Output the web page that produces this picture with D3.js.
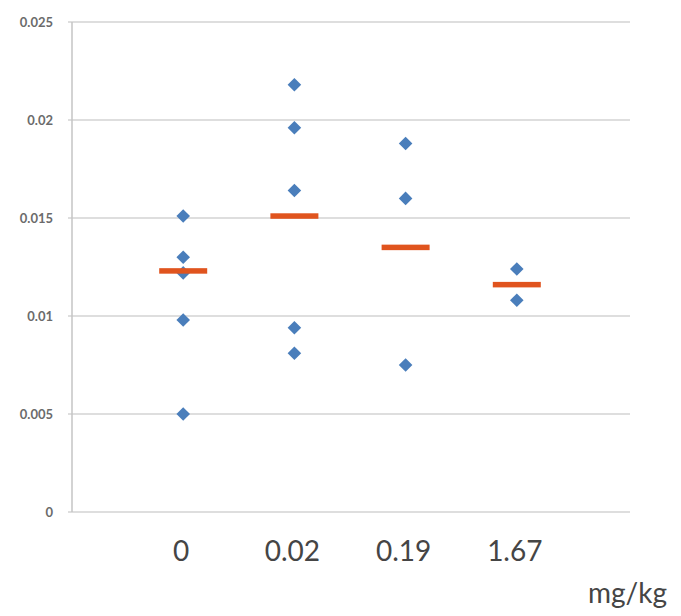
<!DOCTYPE html>
<html>
<head>
<meta charset="utf-8">
<script src="https://cdn.jsdelivr.net/npm/d3@7"></script>
<style>
  html, body { margin: 0; padding: 0; background: #fff; }
  svg { display: block; }
</style>
</head>
<body>
<svg id="chart" width="681" height="616"></svg>
<script>
// ---- Data ----
const categories = ["0", "0.02", "0.19", "1.67"];
const points0    = [0.0151, 0.0130, 0.0122, 0.0098, 0.0050];
const points002  = [0.0218, 0.0196, 0.0164, 0.0094, 0.0081];
const points019  = [0.0188, 0.0160, 0.0075];
const points167  = [0.0124, 0.0108];
const meanValues = [0.0123, 0.0151, 0.0135, 0.0116];
const yTicks     = [0, 0.005, 0.01, 0.015, 0.02, 0.025];
const yTickLabels = ["0", "0.005", "0.01", "0.015", "0.02", "0.025"];
const unitLabel  = "mg/kg";

const groups = [points0, points002, points019, points167];

// ---- Layout ----
const svg = d3.select("#chart");
const plotLeft = 72, plotRight = 628, plotTop = 22, plotBottom = 512;

const x = d3.scalePoint().domain(categories).range([plotLeft, plotRight]).padding(1);
const y = d3.scaleLinear().domain([0, 0.025]).range([plotBottom, plotTop]);

// gridlines
svg.append("g")
  .selectAll("line")
  .data(yTicks)
  .join("line")
  .attr("x1", plotLeft - 4)
  .attr("x2", plotRight + 2)
  .attr("y1", d => y(d))
  .attr("y2", d => y(d))
  .attr("stroke", "#d3d3d3")
  .attr("stroke-width", 1.3);

// y axis line
svg.append("line")
  .attr("x1", plotLeft).attr("x2", plotLeft)
  .attr("y1", y(0.025)).attr("y2", y(0))
  .attr("stroke", "#c4c4c4")
  .attr("stroke-width", 1.5);

// y tick labels
svg.append("g")
  .selectAll("text")
  .data(yTicks)
  .join("text")
  .attr("x", 53)
  .attr("y", d => y(d))
  .attr("dy", "0.35em")
  .attr("text-anchor", "end")
  .attr("font-family", "Lato, 'Noto Sans', sans-serif")
  .attr("font-size", 13)
  .attr("font-weight", "bold")
  .attr("fill", "#6b6b6b")
  .text((d, i) => yTickLabels[i]);

// x category labels
svg.append("g")
  .selectAll("text")
  .data(categories)
  .join("text")
  .attr("x", d => x(d) - 2)
  .attr("y", 561)
  .attr("text-anchor", "middle")
  .attr("font-family", "Lato, 'Noto Sans', sans-serif")
  .attr("font-size", 28)
  .attr("fill", "#454545")
  .text(d => d);

// unit label
svg.append("text")
  .attr("x", 667)
  .attr("y", 603)
  .attr("text-anchor", "end")
  .attr("font-family", "Lato, 'Noto Sans', sans-serif")
  .attr("font-size", 28)
  .attr("fill", "#454545")
  .text(unitLabel);

// points (diamonds)
const pts = [];
groups.forEach((arr, gi) => arr.forEach(v => pts.push({ cat: categories[gi], v })));

const diamond = d3.symbol().type(d3.symbolSquare).size(92);
svg.append("g")
  .selectAll("path")
  .data(pts)
  .join("path")
  .attr("d", diamond)
  .attr("transform", d => `translate(${x(d.cat)},${y(d.v)}) rotate(45)`)
  .attr("fill", "#4a7ebb");

// mean bars
svg.append("g")
  .selectAll("rect")
  .data(meanValues)
  .join("rect")
  .attr("x", (d, i) => x(categories[i]) - 24)
  .attr("y", d => y(d) - 2.75)
  .attr("width", 48)
  .attr("height", 5.5)
  .attr("fill", "#e0541e");
</script>
</body>
</html>
